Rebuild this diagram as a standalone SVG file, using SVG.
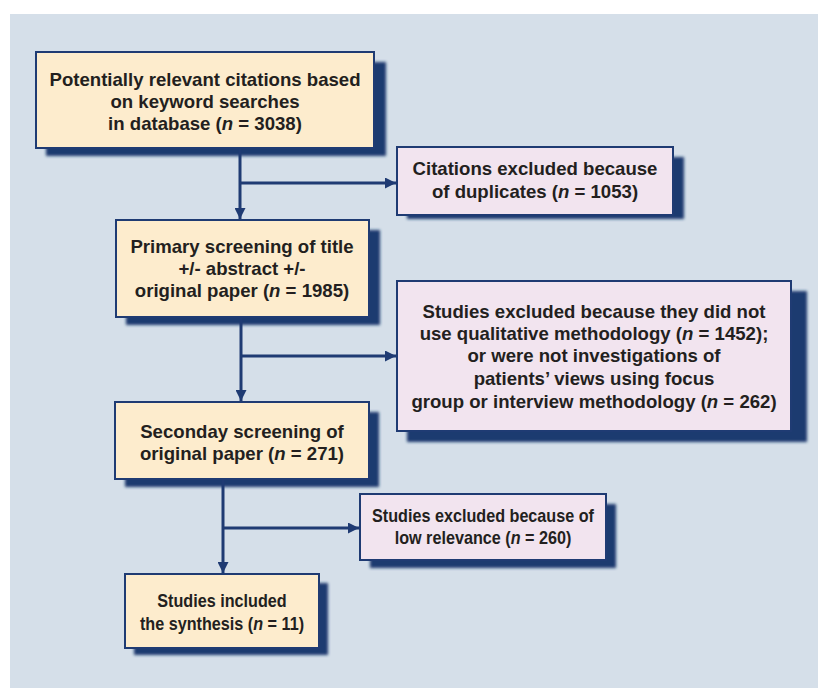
<svg xmlns="http://www.w3.org/2000/svg" width="820" height="688" viewBox="0 0 820 688">
<style>
.bg{fill:#d5dfe9}
.shadow{fill:#1c3a6f;filter:url(#blur)}
.y{fill:#fdeccd;stroke:#1f3b73;stroke-width:2}
.p{fill:#f2e4ef;stroke:#1f3b73;stroke-width:2}
text{font-family:"Liberation Sans",Arial,sans-serif;font-weight:bold;font-size:18.6px;fill:#231f20;text-anchor:middle}
.c line{stroke:#1f3b73;stroke-width:3}
</style>
<defs>
<filter id="blur" x="-10%" y="-10%" width="120%" height="120%"><feGaussianBlur stdDeviation="1.8"/></filter>
<marker id="ah" viewBox="0 0 10 10" refX="10" refY="5" markerWidth="11" markerHeight="11" markerUnits="userSpaceOnUse" orient="auto"><path d="M0,0 L10,5 L0,10 z" fill="#1f3b73"/></marker>
</defs>
<rect x="0" y="0" width="820" height="688" fill="#ffffff"/>
<rect class="bg" x="10" y="14" width="808" height="674"/>

<g id="n1">
<rect class="shadow" x="46" y="62" width="340" height="94"/>
<rect class="y" x="36" y="52" width="338" height="96"/>
<text x="205" y="86">Potentially relevant citations based</text>
<text x="205" y="108">on keyword searches</text>
<text x="205" y="130">in database (<tspan font-style="italic">n</tspan> = 3038)</text>
</g>
<g id="n2">
<rect class="shadow" x="407" y="157" width="277" height="62"/>
<rect class="p" x="397" y="147" width="276" height="68"/>
<text x="535" y="175">Citations excluded because</text>
<text x="535" y="198">of duplicates (<tspan font-style="italic">n</tspan> = 1053)</text>
</g>
<g id="n3">
<rect class="shadow" x="126" y="230" width="254" height="95"/>
<rect class="y" x="116" y="220" width="253" height="97"/>
<text x="242" y="253">Primary screening of title</text>
<text x="242" y="275">+/- abstract +/-</text>
<text x="242" y="297">original paper (<tspan font-style="italic">n</tspan> = 1985)</text>
</g>
<g id="n4">
<rect class="shadow" x="407" y="291" width="400" height="151"/>
<rect class="p" x="397" y="281" width="394" height="150"/>
<text x="594" y="318">Studies excluded because they did not</text>
<text x="594" y="340">use qualitative methodology (<tspan font-style="italic">n</tspan> = 1452);</text>
<text x="594" y="362">or were not investigations of</text>
<text x="594" y="385">patients’ views using focus</text>
<text x="594" y="408">group or interview methodology (<tspan font-style="italic">n</tspan> = 262)</text>
</g>
<g id="n5">
<rect class="shadow" x="125" y="412" width="254" height="75"/>
<rect class="y" x="115" y="402" width="254" height="77"/>
<text x="242" y="438">Seconday screening of</text>
<text x="242" y="460">original paper (<tspan font-style="italic">n</tspan> = 271)</text>
</g>
<g id="n6">
<rect class="shadow" x="370" y="504" width="246" height="64"/>
<rect class="p" x="360" y="494" width="246" height="66"/>
<g transform="translate(483,0) scale(0.87,1)">
<text x="0" y="522">Studies excluded because of</text>
<text x="0" y="544">low relevance (<tspan font-style="italic">n</tspan> = 260)</text>
</g>
</g>
<g id="n7">
<rect class="shadow" x="134" y="583" width="194" height="72"/>
<rect class="y" x="125" y="574" width="194" height="74"/>
<g transform="translate(222,0) scale(0.87,1)">
<text x="0" y="607">Studies included</text>
<text x="0" y="630">the synthesis (<tspan font-style="italic">n</tspan> = 11)</text>
</g>
</g>

<g id="connectors" class="c">
<line x1="240" y1="149" x2="240" y2="219" marker-end="url(#ah)"/>
<line x1="240" y1="183" x2="396" y2="183" marker-end="url(#ah)"/>
<line x1="241" y1="318" x2="241" y2="401" marker-end="url(#ah)"/>
<line x1="241" y1="356" x2="396" y2="356" marker-end="url(#ah)"/>
<line x1="223" y1="480" x2="223" y2="573" marker-end="url(#ah)"/>
<line x1="223" y1="528" x2="359" y2="528" marker-end="url(#ah)"/>
</g>
</svg>
